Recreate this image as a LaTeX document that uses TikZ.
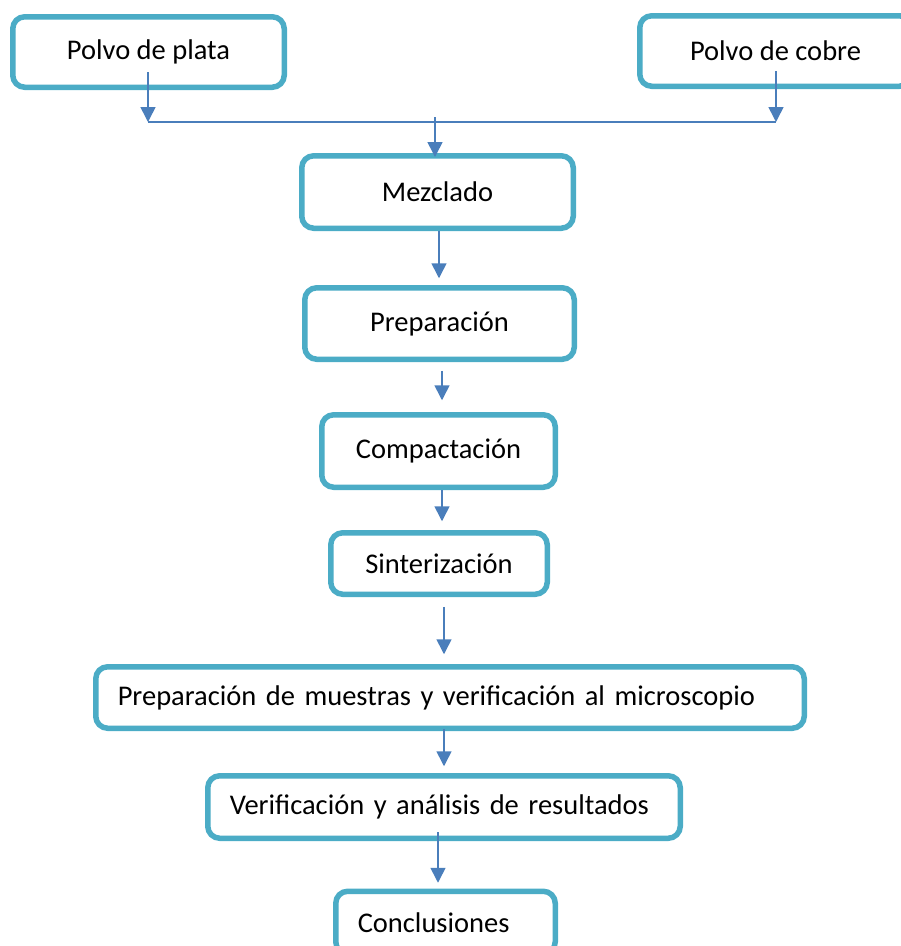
\documentclass[tikz,border=0pt]{standalone}
\usepackage{fontspec}
\setmainfont{Carlito}
\usetikzlibrary{arrows.meta}
\definecolor{cajacol}{HTML}{4BACC6}
\definecolor{flechacol}{HTML}{4A7EBB}
\begin{document}
\begin{tikzpicture}[x=1pt,y=-1pt,
    caja/.style={draw=cajacol,line width=5.5pt,rounded corners=12pt,fill=white,
      font=\fontsize{28.5pt}{34pt}\selectfont,inner sep=0pt},
    cajaizq/.style={caja,inner xsep=22pt,align=left},
    linea/.style={draw=flechacol,line width=1.6pt},
    flecha/.style={linea,-{Triangle[length=15pt,width=15pt]}}]
  \useasboundingbox (0,0) rectangle (901,946);
  \begin{scope}
    \clip (0,0) rectangle (901,946);
    \node[caja,minimum width=271.5,minimum height=70.5] (plata) at (148.5,52) {Polvo de plata};
    \node[caja,minimum width=271.5,minimum height=70.5] (cobre) at (775.5,51) {Polvo de cobre};
    \node[caja,minimum width=271.5,minimum height=72.5] (mezcla) at (437.5,192) {Mezclado};
    \node[caja,minimum width=269.5,minimum height=71.5] (prep) at (439.5,323.5) {Preparación};
    \node[caja,minimum width=233.5,minimum height=72.5] (compac) at (438.5,451) {Compactación};
    \node[caja,minimum width=216.5,minimum height=61.5] (sinter) at (439,563.5) {Sinterización};
    \node[cajaizq,text width=664.5,minimum height=61.5] (muestras) at (450,697.5) {Preparación de muestras y verificación al microscopio};
    \node[cajaizq,text width=428.5,minimum height=62.5] (verif) at (444,807) {Verificación y análisis de resultados};
    \node[cajaizq,text width=175.5,minimum height=62.5] (concl) at (445.5,922.5) {Conclusiones};

    \coordinate (jp) at (148,122);
    \coordinate (jc) at (776,122);
    \coordinate (jm) at (435,117);
    \draw[flecha,shorten <=-18pt] (plata.south -| jp) -- (jp);
    \draw[flecha,shorten <=-18pt] (cobre.south -| jc) -- (jc);
    \draw[linea] (jp) -- (jc);
    \draw[flecha,shorten >=-4pt] (jm) -- (jm |- mezcla.north);
    \foreach \a/\b/\dx/\s/\e in {mezcla/prep/1.5/0/6.75, prep/compac/2.5/8.75/11.75,
      compac/sinter/3.5/0/8.75, sinter/muestras/5/9.75/9.75,
      muestras/verif/-6/-2/6.75, verif/concl/-6/-9/5.75}{
      \draw[flecha,shorten <=\s pt,shorten >=\e pt] ([xshift=\dx pt]\a.south) -- ([xshift=\dx pt]\a.south |- \b.north);
    }
  \end{scope}
\end{tikzpicture}
\end{document}
